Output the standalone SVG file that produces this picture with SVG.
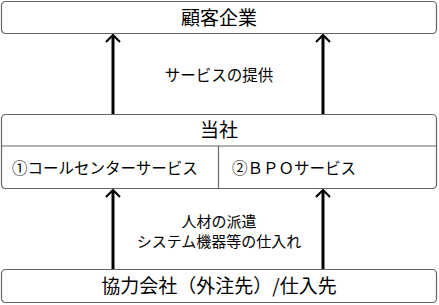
<svg xmlns="http://www.w3.org/2000/svg" width="439" height="305" viewBox="0 0 439 305">
<defs>
<style>
.box{fill:#fff;stroke:#666;stroke-width:1.2}
.div{stroke:#666;stroke-width:1.2;fill:none}
.t{font-family:"Noto Sans CJK JP","Noto Sans CJK SC",sans-serif;fill:#000}
.big{font-size:19px;text-anchor:middle}
.mid{font-size:15.5px}
.sm{font-size:15px;text-anchor:middle}
.arr{stroke:#000;stroke-width:3;fill:none}
.head{stroke:#000;stroke-width:2;fill:none}
</style>
</defs>
<rect width="439" height="305" fill="#fff"/>
<g id="connectors">
<line class="arr" x1="113" y1="114" x2="113" y2="36"/>
<polyline class="head" points="106,42 113,35 120,42"/>
<line class="arr" x1="323" y1="114" x2="323" y2="36"/>
<polyline class="head" points="316,42 323,35 330,42"/>
<line class="arr" x1="113" y1="269" x2="113" y2="191"/>
<polyline class="head" points="106,197 113,190 120,197"/>
<line class="arr" x1="323" y1="269" x2="323" y2="191"/>
<polyline class="head" points="316,197 323,190 330,197"/>
<text class="t mid" x="219" y="81" text-anchor="middle">サービスの提供</text>
<text class="t sm" x="219" y="226.5">人材の派遣</text>
<text class="t sm" x="219" y="246.5">システム機器等の仕入れ</text>
</g>
<g id="customer">
<rect class="box" x="1.5" y="1.5" width="435" height="32" rx="4"/>
<text class="t big" x="219" y="24.7">顧客企業</text>
</g>
<g id="company">
<rect class="box" x="1.5" y="114.5" width="435" height="74" rx="4"/>
<line class="div" x1="1.5" y1="146" x2="436.5" y2="146"/>
<line class="div" x1="218.5" y1="146" x2="218.5" y2="188.5"/>
<text class="t big" x="219" y="137">当社</text>
<text class="t mid" x="12" y="174">①コールセンターサービス</text>
<text class="t mid" x="232" y="174">②ＢＰＯサービス</text>
</g>
<g id="partners">
<rect class="box" x="1.5" y="269.5" width="435" height="33" rx="4"/>
<text class="t big" x="219" y="293">協力会社（外注先）/仕入先</text>
</g>
</svg>
